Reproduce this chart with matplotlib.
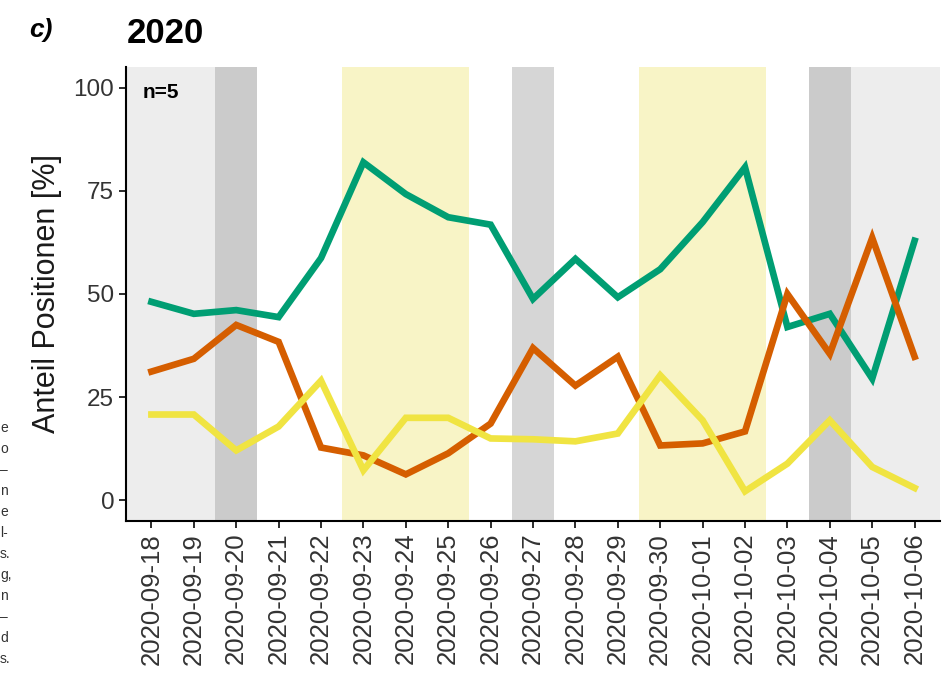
import numpy as np
import matplotlib
matplotlib.use("Agg")
import matplotlib.pyplot as plt

plt.rcParams.update({
    "font.family": ["Liberation Sans", "DejaVu Sans"],
    "axes.spines.top": False, "axes.spines.right": False,
})

dates = ["2020-09-18", "2020-09-19", "2020-09-20", "2020-09-21", "2020-09-22",
         "2020-09-23", "2020-09-24", "2020-09-25", "2020-09-26", "2020-09-27",
         "2020-09-28", "2020-09-29", "2020-09-30", "2020-10-01", "2020-10-02",
         "2020-10-03", "2020-10-04", "2020-10-05", "2020-10-06"]

green = [48.1, 45.2, 46.1, 44.4, 58.7, 81.9, 74.2, 68.6, 66.8, 48.8,
         58.5, 49.2, 56.0, 67.4, 80.7, 42.0, 45.2, 29.5, 62.9]
orange = [31.2, 34.3, 42.5, 38.4, 12.8, 10.9, 6.3, 11.4, 18.6, 36.9,
          27.8, 34.8, 13.3, 13.8, 16.7, 50.0, 35.5, 63.6, 34.8]
yellow = [20.8, 20.8, 12.1, 17.9, 29.0, 7.3, 20.0, 20.0, 15.0, 14.8,
          14.3, 16.2, 30.3, 19.4, 2.2, 8.9, 19.4, 8.1, 3.0]

# background periods: (first day, last day, colour)
periods = [
    (None, "2020-09-19", "#EDEDED"),
    ("2020-09-20", "2020-09-20", "#CBCBCB"),
    ("2020-09-23", "2020-09-25", "#F8F4C6"),
    ("2020-09-27", "2020-09-27", "#D6D6D6"),
    ("2020-09-30", "2020-10-02", "#F8F4C6"),
    ("2020-10-04", "2020-10-04", "#CBCBCB"),
    ("2020-10-05", None, "#EDEDED"),
]

# cut-off text from the neighbouring column
margin_bits = ["e", "o", "\u2013", "n", "e", "l-", "s.", "g,", "n", "\u2013", "d", "s."]

x = np.arange(len(dates))
XMIN, XMAX = -0.6, len(dates) - 0.4

fig = plt.figure(figsize=(9.53, 6.74), dpi=100)
ax = fig.add_axes([0.1322, 0.227, 0.8542, 0.6736])

for start, end, col in periods:
    a = XMIN if start is None else dates.index(start) - 0.5
    b = XMAX if end is None else dates.index(end) + 0.5
    ax.axvspan(a, b, color=col, lw=0, zorder=0)

for vals, col in [(green, "#009E73"), (orange, "#D55E00"), (yellow, "#F0E442")]:
    ax.plot(x, vals, color=col, lw=4.8, solid_joinstyle="miter", zorder=3)

ax.set_xlim(XMIN, XMAX)
ax.set_ylim(-5, 105)
ax.set_yticks([0, 25, 50, 75, 100])
ax.set_xticks(x)
ax.set_xticklabels(dates, rotation=90, fontsize=18.5)
ax.tick_params(axis="y", labelsize=17.5)
ax.tick_params(colors="#1A1A1A", length=5, width=1.3, labelcolor="#333333")
for s in ("left", "bottom"):
    ax.spines[s].set_linewidth(1.5)
ax.set_ylabel("Anteil Positionen [%]", fontsize=22, color="#1A1A1A", labelpad=8)

ax.text(0.021, 98.8, "n=5", fontsize=15, fontweight="bold", ha="left", va="center",
        transform=ax.get_yaxis_transform(), zorder=5)
fig.text(0.031, 0.955, "c)", fontsize=19, fontweight="bold", style="italic", va="center")
fig.text(0.133, 0.951, "2020", fontsize=25, fontweight="bold", va="center")

for i, t in enumerate(margin_bits):
    fig.text(0.0, 1 - (428 + 21 * i) / 674, t, fontsize=10, color="#333333", va="center")

fig.savefig("out.png", dpi=100)
